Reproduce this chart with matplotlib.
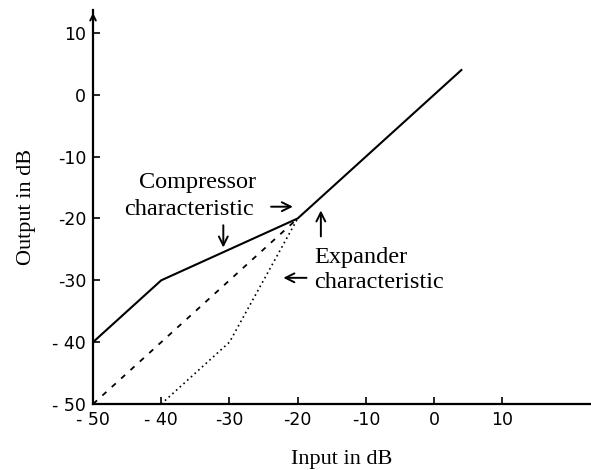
import matplotlib.pyplot as plt

# compressor / expander transfer curves (input dB -> output dB)
comp_in = [-50, -40, -20, 4]
comp_out = [-40, -30, -20, 4]
linear_in = [-50, -20]
linear_out = [-50, -20]
exp_in = [-40, -30, -20]
exp_out = [-50, -40, -20]

xticks = [-50, -40, -30, -20, -10, 0, 10]
xlabels = ['- 50', '- 40', '-30', '-20', '-10', '0', '10']
yticks = [10, 0, -10, -20, -30, -40, -50]
ylabels = ['10', '0', '-10', '-20', '-30', '- 40', '- 50']

serif = 'Liberation Serif'

fig = plt.figure(figsize=(5.91, 4.70), dpi=100)
ax = fig.add_axes([0.1574, 0.1404, 0.8426, 0.8383])

ax.plot(comp_in, comp_out, color='black', lw=1.5)
ax.plot(linear_in, linear_out, color='black', lw=1.3, linestyle=(0, (3, 4)))
ax.plot(exp_in, exp_out, color='black', lw=1.2, linestyle=(0, (1, 2)))

ax.set_xlim(-50, 23)
ax.set_ylim(-50, 13.7)

for s in ['top', 'right']:
    ax.spines[s].set_visible(False)
for s in ['left', 'bottom']:
    ax.spines[s].set_linewidth(1.6)

ax.set_xticks(xticks)
ax.set_xticklabels(xlabels)
ax.set_yticks(yticks)
ax.set_yticklabels(ylabels)
ax.tick_params(direction='in', length=5, width=1.2, labelsize=12.5, pad=5)

# arrow head at the top of the y axis
ax.annotate('', xy=(0, 1.0), xytext=(0, 0.96), xycoords='axes fraction',
            arrowprops=dict(arrowstyle='->', lw=1.4, color='black'))

ax.set_xlabel('Input in dB', fontfamily=serif, fontsize=16, labelpad=15)
ax.set_ylabel('Output in dB', fontfamily=serif, fontsize=16, labelpad=12)

# annotations
ax.text(-34.75, -15.15, 'Compressor', family=serif, fontsize=17.5,
        ha='center', va='baseline')
ax.text(-35.9, -19.4, 'characteristic', family=serif, fontsize=17.5,
        ha='center', va='baseline')
ax.text(-17.6, -27.15, 'Expander', family=serif, fontsize=17.5,
        ha='left', va='baseline')
ax.text(-17.6, -31.2, 'characteristic', family=serif, fontsize=17.5,
        ha='left', va='baseline')

arrow = dict(arrowstyle='->', lw=1.4, color='black', mutation_scale=16,
             shrinkA=0, shrinkB=0)
ax.annotate('', xy=(-20.7, -18.1), xytext=(-23.9, -18.1), arrowprops=arrow)
ax.annotate('', xy=(-30.9, -24.7), xytext=(-30.9, -21.1), arrowprops=arrow)
ax.annotate('', xy=(-22.1, -29.6), xytext=(-18.7, -29.6), arrowprops=arrow)
ax.annotate('', xy=(-16.6, -18.7), xytext=(-16.6, -22.9), arrowprops=arrow)

fig.savefig('out.png', dpi=100)
